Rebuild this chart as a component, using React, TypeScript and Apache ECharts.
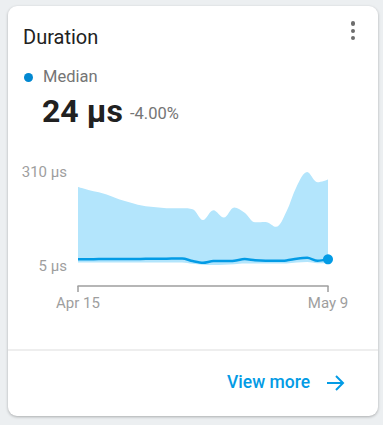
import React, { useEffect, useRef } from "react";
import * as echarts from "echarts";

const categories: string[] = [
  "Apr 15", "Apr 16", "Apr 17", "Apr 18", "Apr 19", "Apr 20", "Apr 21", "Apr 22",
  "Apr 23", "Apr 24", "Apr 25", "Apr 26", "Apr 27", "Apr 28", "Apr 29", "Apr 30",
  "May 1", "May 2", "May 3", "May 4", "May 5", "May 6", "May 7", "May 8", "May 9",
];
const upperValues: number[] = [
  261, 252, 244, 234, 221, 211, 202, 197, 194, 192, 192, 189, 154,
  186, 162, 195, 178, 147, 148, 132, 181, 264, 310, 277, 286,
];
const lowerValues: number[] = [
  16, 16, 16, 16, 16, 16, 16, 16, 16, 16, 16, 12, 9,
  8, 9, 11, 13, 13, 13, 13, 13, 16, 18, 14, 15,
];
const medianValues: number[] = [
  27, 27, 27.5, 27.5, 28, 28, 28, 28.5, 28.5, 29, 29, 21, 15.5,
  21, 21, 22, 27.5, 23.5, 22, 22, 23, 28.5, 31.5, 22, 26.5,
];
const yTickValues: number[] = [5, 310];
const yMin = 5;
const yMax = 310;

const FONT = "Roboto, 'Noto Sans', sans-serif";

export default function App() {
  const ref = useRef<HTMLDivElement>(null);

  useEffect(() => {
    if (!ref.current) return;
    const chart = echarts.init(ref.current, undefined, { renderer: "svg" });
    const last = categories.length - 1;
    chart.setOption({
      animation: false,
      grid: { left: 78, top: 172, width: 250, height: 94, containLabel: false },
      xAxis: {
        type: "category",
        data: categories,
        boundaryGap: false,
        offset: 20,
        axisLine: { show: true, lineStyle: { color: "#9e9e9e", width: 1.5 } },
        axisTick: {
          show: true,
          length: 6,
          lineStyle: { color: "#9e9e9e", width: 1.5 },
          interval: (i: number) => i === 0 || i === last,
        },
        axisLabel: {
          interval: (i: number) => i === 0 || i === last,
          color: "#9e9e9e",
          fontSize: 15,
          fontFamily: FONT,
          margin: 9,
        },
        splitLine: { show: false },
      },
      yAxis: {
        type: "value",
        min: yMin,
        max: yMax,
        axisLine: { show: false },
        axisTick: { show: false },
        splitLine: { show: false },
        axisLabel: {
          customValues: yTickValues,
          formatter: (v: number) => `${v} μs`,
          color: "#9e9e9e",
          fontSize: 15,
          fontFamily: FONT,
          margin: 11,
        },
      },
      series: [
        {
          type: "line",
          data: lowerValues,
          stack: "band",
          smooth: 0.35,
          symbol: "none",
          lineStyle: { opacity: 0 },
          silent: true,
        },
        {
          type: "line",
          data: upperValues.map((u, i) => u - lowerValues[i]),
          stack: "band",
          smooth: 0.35,
          symbol: "none",
          lineStyle: { opacity: 0 },
          areaStyle: { color: "#b3e5fc", opacity: 1 },
          silent: true,
        },
        {
          type: "line",
          data: medianValues.map((v, i) => ({
            value: v,
            symbol: i === last ? "circle" : "none",
            symbolSize: i === last ? 10 : 0,
          })),
          smooth: 0.3,
          showAllSymbol: true,
          lineStyle: { color: "#039be5", width: 2.5 },
          itemStyle: { color: "#039be5" },
          z: 5,
        },
      ],
    });
    return () => chart.dispose();
  }, []);

  return (
    <div
      style={{
        position: "absolute",
        left: 0,
        top: 0,
        width: 383,
        height: 425,
        background: "#eceff1",
        fontFamily: FONT,
        overflow: "hidden",
      }}
    >
      <div
        style={{
          position: "absolute",
          left: 8,
          top: 6,
          width: 370,
          height: 410,
          background: "#ffffff",
          borderRadius: 9,
          boxShadow: "0 1px 3px rgba(0,0,0,0.28)",
        }}
      />
      <div
        style={{
          position: "absolute",
          left: 8,
          top: 349,
          width: 370,
          height: 2,
          background: "#eeeeee",
        }}
      />
      <div style={{ position: "absolute", left: 23, top: 26.5, fontSize: 20, lineHeight: 1, color: "#212121", whiteSpace: "nowrap" }}>
        Duration
      </div>
      {[23.5, 30.8, 38].map((cy, i) => (
        <div
          key={i}
          style={{
            position: "absolute",
            left: 351.2,
            top: cy - 2.1,
            width: 4.2,
            height: 4.2,
            borderRadius: "50%",
            background: "#6d6d6d",
          }}
        />
      ))}
      <div
        style={{
          position: "absolute",
          left: 23.6,
          top: 73,
          width: 9.4,
          height: 9.4,
          borderRadius: "50%",
          background: "#0288d1",
        }}
      />
      <div style={{ position: "absolute", left: 43, top: 69, fontSize: 16.5, lineHeight: 1, color: "#757575", whiteSpace: "nowrap" }}>
        Median
      </div>
      <div style={{ position: "absolute", left: 42, top: 94.8, fontSize: 32, fontWeight: 700, lineHeight: 1, color: "#212121", whiteSpace: "nowrap" }}>
        24 μs
      </div>
      <div style={{ position: "absolute", left: 130, top: 106.4, fontSize: 16.5, lineHeight: 1, color: "#757575", whiteSpace: "nowrap" }}>
        -4.00%
      </div>
      <div style={{ position: "absolute", left: 227, top: 374, fontSize: 17.5, fontWeight: 500, lineHeight: 1, color: "#039be5", whiteSpace: "nowrap" }}>
        View more
      </div>
      <svg
        style={{ position: "absolute", left: 325, top: 373 }}
        width={22}
        height={20}
        viewBox="0 0 22 20"
      >
        <path d="M2 10 H18 M11 3 L18 10 L11 17" fill="none" stroke="#039be5" strokeWidth={2} />
      </svg>
      <div ref={ref} style={{ position: "absolute", left: 0, top: 0, width: 383, height: 425 }} />
    </div>
  );
}
